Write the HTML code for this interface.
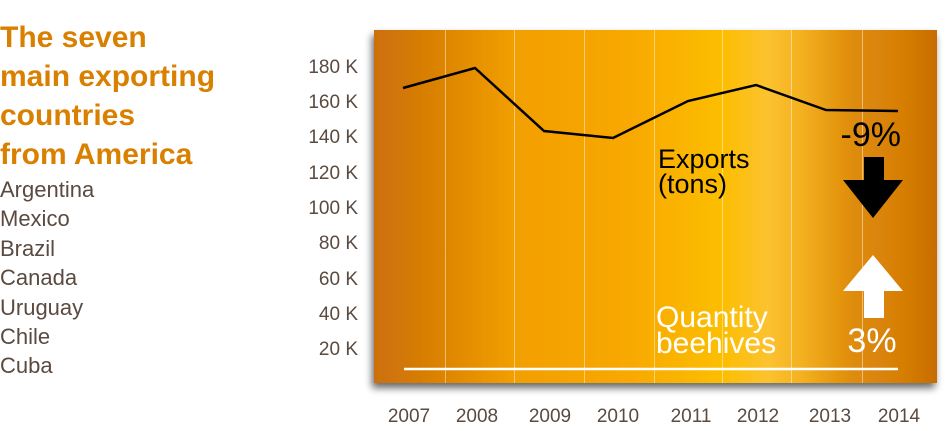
<!DOCTYPE html>
<html><head><meta charset="utf-8"><style>
html,body{margin:0;padding:0;background:#fff;width:947px;height:431px;overflow:hidden}
svg{display:block;font-family:"Liberation Sans",sans-serif}
</style></head><body>
<svg width="947" height="431" viewBox="0 0 947 431" xmlns="http://www.w3.org/2000/svg">
<defs>
<linearGradient id="bg" x1="0" x2="1" y1="0" y2="0">
<stop offset="0" stop-color="#cc7008"/>
<stop offset="0.08" stop-color="#d67c06"/>
<stop offset="0.25" stop-color="#f29f00"/>
<stop offset="0.45" stop-color="#f8a800"/>
<stop offset="0.62" stop-color="#fcbe00"/>
<stop offset="0.70" stop-color="#fcc230"/>
<stop offset="0.76" stop-color="#f4b020"/>
<stop offset="0.85" stop-color="#de8c08"/>
<stop offset="0.94" stop-color="#d67e06"/>
<stop offset="1" stop-color="#c86c04"/>
</linearGradient>
<filter id="sh" x="-5%" y="-5%" width="112%" height="115%">
<feGaussianBlur in="SourceAlpha" stdDeviation="4"/>
<feOffset dx="-2" dy="5"/>
<feComponentTransfer><feFuncA type="linear" slope="0.6"/></feComponentTransfer>
<feMerge><feMergeNode/><feMergeNode in="SourceGraphic"/></feMerge>
</filter>
</defs>
<g font-weight="bold" font-size="30" fill="#d98000">
<text x="0" y="47">The seven</text>
<text x="0" y="86">main exporting</text>
<text x="0" y="125">countries</text>
<text x="0" y="164">from America</text>
</g>
<g font-size="22" fill="#5a4a40">
<text x="0" y="197">Argentina</text>
<text x="0" y="226">Mexico</text>
<text x="0" y="256">Brazil</text>
<text x="0" y="285">Canada</text>
<text x="0" y="315">Uruguay</text>
<text x="0" y="344">Chile</text>
<text x="0" y="373">Cuba</text>
</g>
<rect x="374" y="30" width="563" height="353" fill="url(#bg)" filter="url(#sh)"/>
<g stroke="#ffffff" stroke-opacity="0.45" stroke-width="1">
<line x1="445.5" y1="30" x2="445.5" y2="383"/>
<line x1="514.5" y1="30" x2="514.5" y2="383"/>
<line x1="584.5" y1="30" x2="584.5" y2="383"/>
<line x1="654.5" y1="30" x2="654.5" y2="383"/>
<line x1="722.5" y1="30" x2="722.5" y2="383"/>
<line x1="791.5" y1="30" x2="791.5" y2="383"/>
<line x1="862.5" y1="30" x2="862.5" y2="383"/>
</g>
<polyline points="403,88 475,68 544,131 613,138 688,101 756,85 826,110 898,111" fill="none" stroke="#000" stroke-width="2.5"/>
<line x1="404" y1="369" x2="898" y2="369" stroke="#fff" stroke-width="2.5"/>
<g font-size="19" fill="#5a4a40" text-anchor="end">
<text x="358" y="73">180 K</text>
<text x="358" y="108">160 K</text>
<text x="358" y="143">140 K</text>
<text x="358" y="179">120 K</text>
<text x="358" y="214">100 K</text>
<text x="358" y="249">80 K</text>
<text x="358" y="285">60 K</text>
<text x="358" y="320">40 K</text>
<text x="358" y="355">20 K</text>
</g>
<g font-size="19" fill="#5a4a40" text-anchor="middle">
<text x="409" y="422">2007</text>
<text x="477" y="422">2008</text>
<text x="550" y="422">2009</text>
<text x="618" y="422">2010</text>
<text x="691" y="422">2011</text>
<text x="758" y="422">2012</text>
<text x="830" y="422">2013</text>
<text x="899" y="422">2014</text>
</g>
<g font-size="27" fill="#000">
<text x="658" y="168">Exports</text>
<text x="658" y="193">(tons)</text>
</g>
<text x="901" y="146" font-size="34" fill="#000" text-anchor="end">-9%</text>
<polygon points="864,157 884,157 884,180 903,180 873,218 843,180 864,180" fill="#000"/>
<polygon points="873,255 903,291 884,291 884,318 864,318 864,291 843,291" fill="#fff"/>
<g font-size="30" fill="#fff">
<text x="656" y="327">Quantity</text>
<text x="656" y="353">beehives</text>
</g>
<text x="872" y="352" font-size="34" fill="#fff" text-anchor="middle">3%</text>
</svg>
</body></html>
